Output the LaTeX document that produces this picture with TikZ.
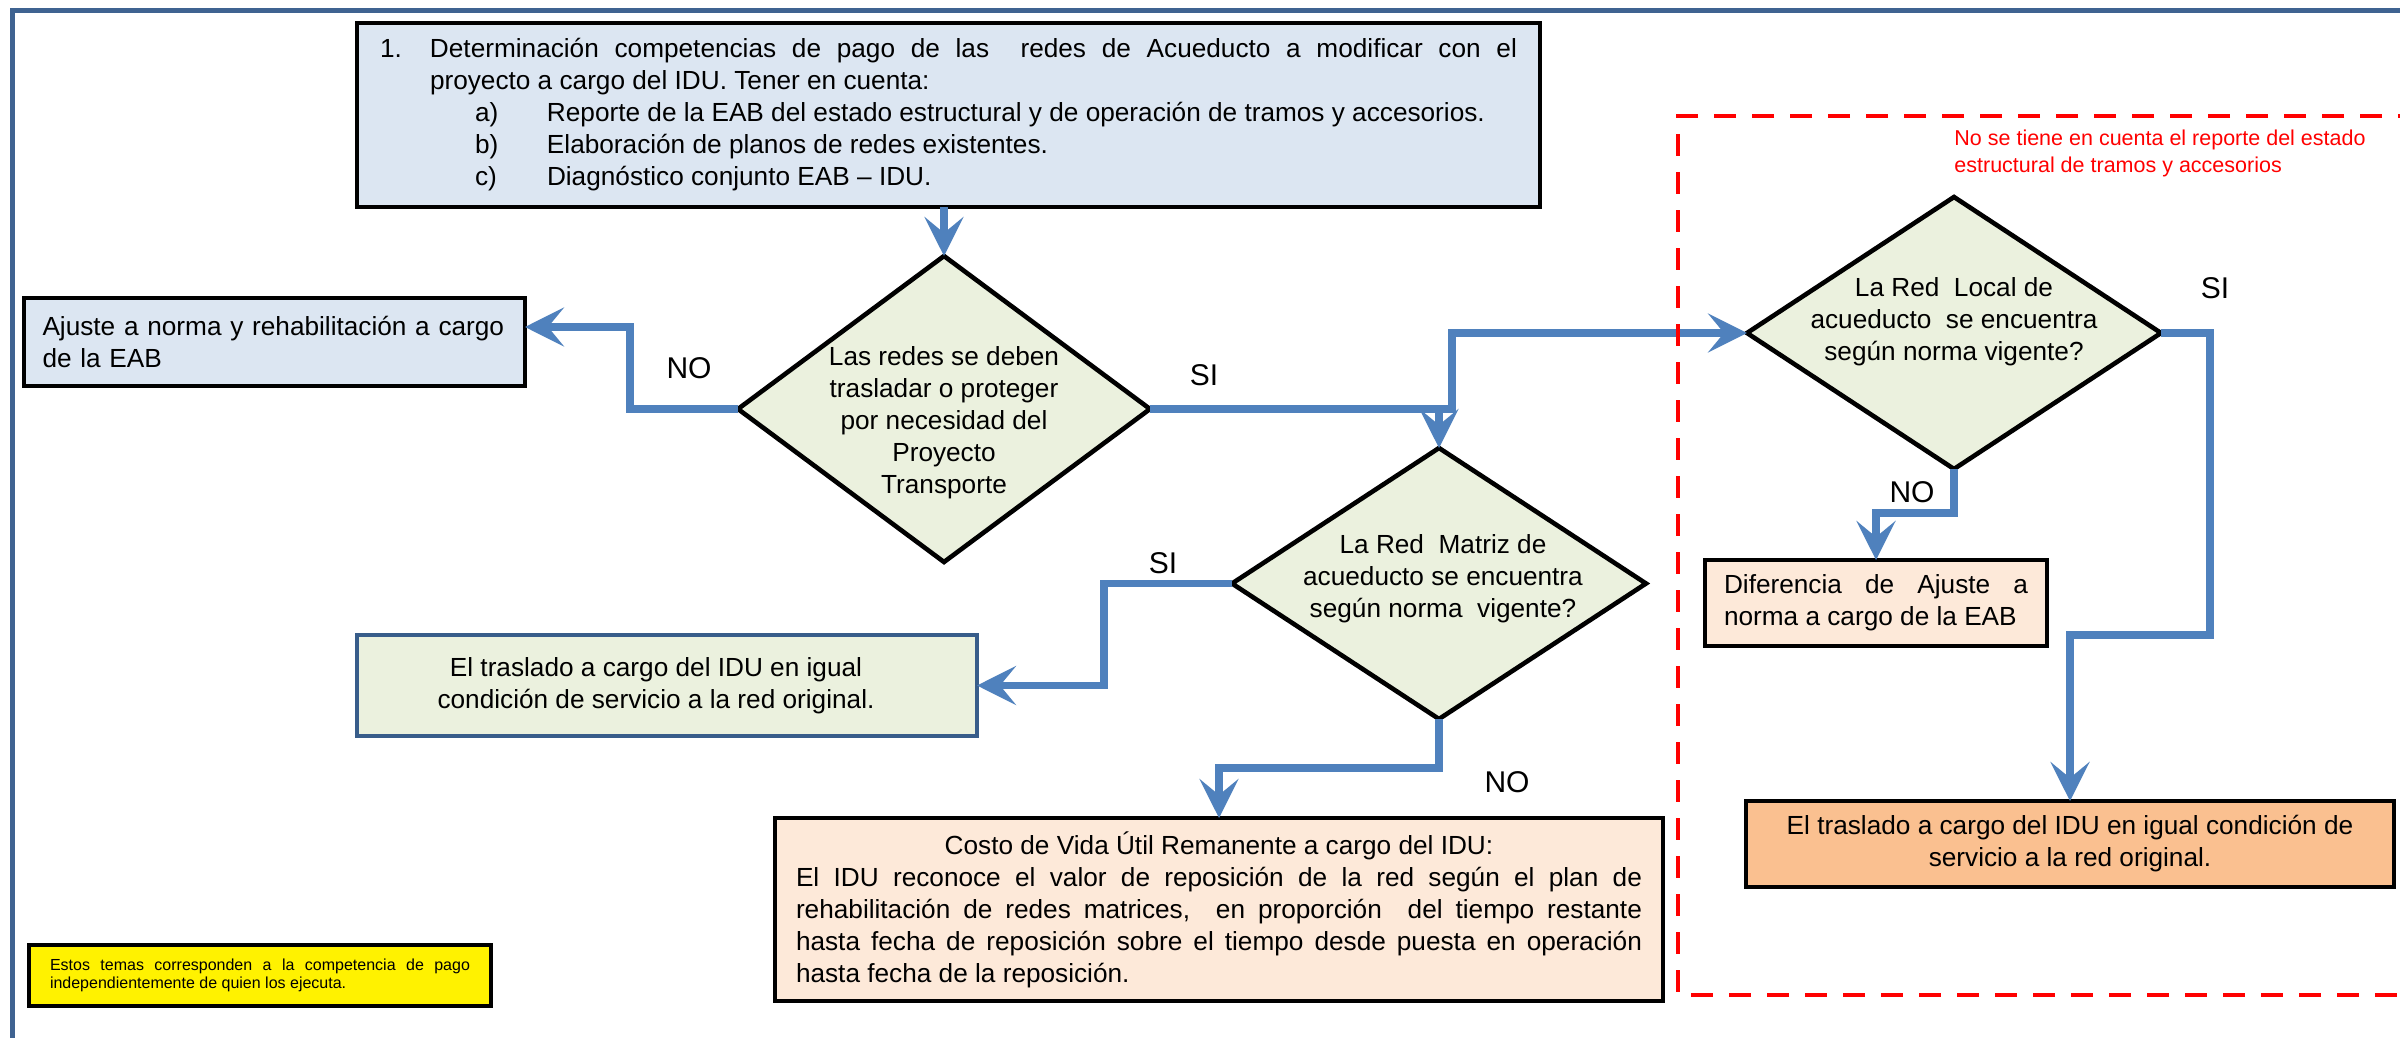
\documentclass[tikz,border=0pt]{standalone}
\usepackage{fontspec}
\setmainfont{Liberation Sans}
\usetikzlibrary{shapes.geometric,arrows.meta}
\setlength{\parindent}{0pt}
\definecolor{boxblue}{HTML}{DCE6F2}
\definecolor{boxgreen}{HTML}{EBF1DE}
\definecolor{boxpeach}{HTML}{FDE9D9}
\definecolor{boxorange}{HTML}{FAC090}
\definecolor{connblue}{HTML}{4F81BD}
\definecolor{darkblue}{HTML}{385D8A}
\definecolor{frameblue}{HTML}{3F6391}
\tikzset{
  box/.style={rectangle, draw=black, line width=2.4pt, inner sep=0pt, outer sep=0pt},
  dia/.style={diamond, draw=black, line width=2.3pt, fill=boxgreen, inner sep=0pt, outer sep=0pt},
  conn/.style={draw=connblue, line width=3.7pt, line join=miter, -{Stealth[length=19.5pt,width=19.5pt,inset=8pt]}},
  lbl/.style={font=\fontsize{15}{18}\selectfont, inner sep=0pt},
  txt/.style={font=\fontsize{13.1}{16}\selectfont},
}
\begin{document}
\begin{tikzpicture}[x=0.5pt,y=-0.5pt]
\useasboundingbox (0,0) rectangle (2400,1038);
\fill[white] (0,0) rectangle (2400,1038);
\draw[frameblue, line width=2.5pt] (12,1060) -- (12,11) -- (2420,11);

% boxes
\node[box, fill=boxblue, minimum width=591.5pt, minimum height=92pt, txt, text width=568.5pt, align=justify] (top) at (948.5,115) {%
\hangindent=25pt\hangafter=1\makebox[25pt][l]{1.}Determinación competencias de pago de las\ \ redes de Acueducto a modificar con el\linebreak proyecto a cargo del IDU. Tener en cuenta:\par
\hspace*{47.5pt}\makebox[36pt][l]{a)}Reporte de la EAB del estado estructural y de operación de tramos y accesorios.\par
\hspace*{47.5pt}\makebox[36pt][l]{b)}Elaboración de planos de redes existentes.\par
\hspace*{47.5pt}\makebox[36pt][l]{c)}Diagnóstico conjunto EAB – IDU.};

\node[box, fill=boxblue, minimum width=250.5pt, minimum height=44pt, txt, text width=232pt, align=left] (eab) at (274.5,342) {Ajuste a norma y rehabilitación a cargo\\de la EAB};

\node[box, draw=darkblue, line width=2pt, fill=boxgreen, minimum width=310pt, minimum height=50.5pt, txt, align=center] (idu1) at (667,685.5) {\hspace*{-11pt}El traslado a cargo del IDU en igual\\\hspace*{-11pt}condición de servicio a la red original.};

\node[box, fill=boxpeach, minimum width=444pt, minimum height=91.5pt, txt, text width=423pt, align=justify] (costo) at (1219,909.5) {{\centering Costo de Vida Útil Remanente a cargo del IDU:\par}El IDU reconoce el valor de reposición de la red según el plan de\linebreak rehabilitación de redes matrices,\ \ en proporción\ \ del tiempo restante\linebreak hasta fecha de reposición sobre el tiempo desde puesta en operación\linebreak hasta fecha de la reposición.};

\node[box, fill=boxpeach, minimum width=171pt, minimum height=43pt, txt, text width=152pt, align=justify] (dif) at (1876,603) {Diferencia de Ajuste a\linebreak norma a cargo de la EAB};

\node[box, fill=boxorange, minimum width=324pt, minimum height=43pt, txt, align=center] (orng) at (2070,844) {El traslado a cargo del IDU en igual condición de\\servicio a la red original.};

\node[box, line width=2pt, fill=yellow, minimum width=231pt, minimum height=30.5pt, font=\fontsize{8}{9}\selectfont, text width=210pt, align=justify] (yel) at (260,975.5) {Estos temas corresponden a la competencia de pago\linebreak independientemente de quien los ejecuta.};

% diamonds
\node[dia, minimum width=206pt, minimum height=153pt] (d1) at (944,409) {};
\node[txt, align=center, inner sep=0pt] (d1t) at (944,423) {Las redes se deben\\trasladar o proteger\\por necesidad del\\Proyecto\\Transporte};
\node[dia, minimum width=207pt, minimum height=135.5pt] (d2) at (1439,583.5) {};
\node[txt, align=center, inner sep=0pt] (d2t) at (1443,579) {La Red\ \ Matriz de\\acueducto se encuentra\\según norma\ \ vigente?};
\node[dia, minimum width=207pt, minimum height=136pt] (d3) at (1954,333) {};
\node[txt, align=center, inner sep=0pt] (d3t) at (1954,322) {La Red\ \ Local de\\acueducto\ \ se encuentra\\según norma vigente?};

% connectors
\draw[conn] (d1.north |- top.south) -- (d1.north);
\coordinate (c2a) at (630,409);
\coordinate (c2b) at (630,327);
\draw[conn] (d1.west) -- (c2a) -- (c2b) -- (c2b -| eab.east);
\coordinate (j1) at (1452,409);
\coordinate (j1b) at (1452,333);
\draw[conn] (d1.east) -- (j1) -- (j1b) -- (d3.west);
\draw[conn] (d2.north |- d1.east) -- (d2.north);
\coordinate (c4a) at (1104,583.5);
\draw[conn] (d2.west) -- (c4a) -- (c4a |- idu1.east) -- (idu1.east);
\coordinate (c5a) at (1219,768);
\draw[conn] (d2.south) -- (d2.south |- c5a) -- (c5a) -- (c5a |- costo.north);
\coordinate (c6a) at (1876,513);
\draw[conn] (d3.south) -- (d3.south |- c6a) -- (c6a) -- (c6a |- dif.north);
\coordinate (c7a) at (2210,333);
\coordinate (c7b) at (2210,635);
\draw[conn] (d3.east) -- (c7a) -- (c7b) -- (c7b -| orng.north) -- (orng.north);

% labels
\node[lbl] (no1) at (689,368) {NO};
\node[lbl] (si1) at (1204,375) {SI};
\node[lbl] (si2) at (1163,563) {SI};
\node[lbl] (no2) at (1507,782) {NO};
\node[lbl] (no3) at (1912,492) {NO};
\node[lbl] (si3) at (2215,288) {SI};

% red dashed region and note
\draw[red, line width=2.3pt, dash pattern=on 11pt off 8pt] (2420,116) -- (1678,116) -- (1678,995) -- (2420,995);
\node[anchor=west, inner sep=0pt, text=red, font=\fontsize{10.75}{13.5}\selectfont, align=left] (note) at (1954,153) {No se tiene en cuenta el reporte del estado\\estructural de tramos y accesorios};
\end{tikzpicture}
\end{document}
